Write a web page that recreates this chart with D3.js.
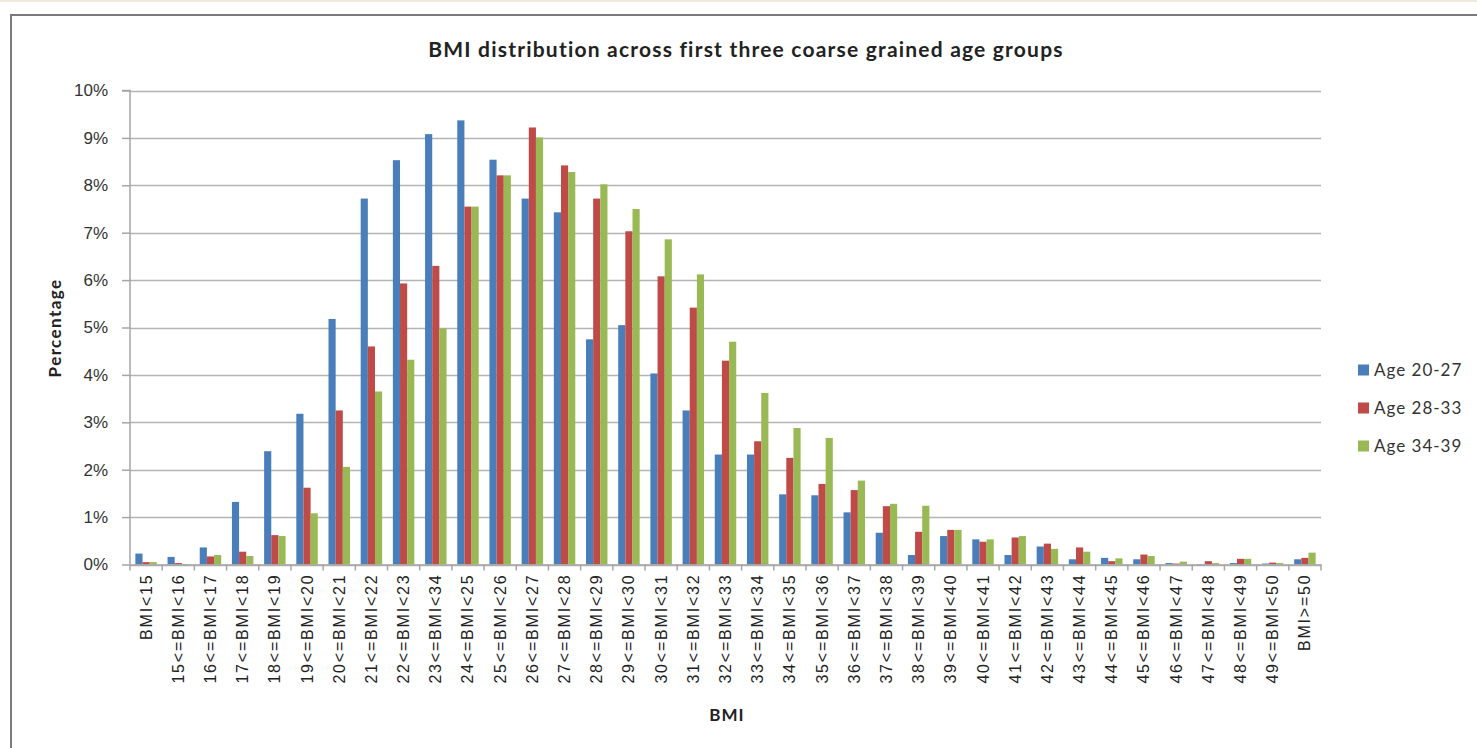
<!DOCTYPE html>
<html>
<head>
<meta charset="utf-8">
<script src="https://cdn.jsdelivr.net/npm/d3@7/dist/d3.min.js"></script>
<style>
  html, body { margin: 0; padding: 0; background: #fff; }
  svg { display: block; font-family: Lato, "Open Sans", sans-serif; }
</style>
</head>
<body>
<svg id="chart" width="1477" height="748"></svg>
<script>
// BMI bands (labels as printed on the axis)
const categories = [
  "BMI<15", "15<=BMI<16", "16<=BMI<17", "17<=BMI<18", "18<=BMI<19", "19<=BMI<20",
  "20<=BMI<21", "21<=BMI<22", "22<=BMI<23", "23<=BMI<34", "24<=BMI<25", "25<=BMI<26",
  "26<=BMI<27", "27<=BMI<28", "28<=BMI<29", "29<=BMI<30", "30<=BMI<31", "31<=BMI<32",
  "32<=BMI<33", "33<=BMI<34", "34<=BMI<35", "35<=BMI<36", "36<=BMI<37", "37<=BMI<38",
  "38<=BMI<39", "39<=BMI<40", "40<=BMI<41", "41<=BMI<42", "42<=BMI<43", "43<=BMI<44",
  "44<=BMI<45", "45<=BMI<46", "46<=BMI<47", "47<=BMI<48", "48<=BMI<49", "49<=BMI<50",
  "BMI>=50"
];

const seriesNames = ["Age 20-27", "Age 28-33", "Age 34-39"];
const seriesColors = ["#4a7ebb", "#be4b48", "#98b954"];

// Share of each age group in each BMI band (percent)
const age20to27 = [
  0.23, 0.16, 0.36, 1.32, 2.39, 3.18, 5.18, 7.72, 8.53, 9.08, 9.37, 8.54,
  7.72, 7.43, 4.75, 5.05, 4.03, 3.25, 2.32, 2.32, 1.48, 1.46, 1.10, 0.67,
  0.20, 0.60, 0.53, 0.20, 0.38, 0.11, 0.14, 0.11, 0.03, 0.01, 0.03, 0.02,
  0.11
];
const age28to33 = [
  0.05, 0.03, 0.17, 0.27, 0.62, 1.62, 3.25, 4.60, 5.93, 6.30, 7.55, 8.21,
  9.22, 8.42, 7.72, 7.03, 6.08, 5.42, 4.30, 2.60, 2.25, 1.70, 1.57, 1.23,
  0.69, 0.73, 0.48, 0.57, 0.44, 0.36, 0.07, 0.21, 0.02, 0.07, 0.12, 0.04,
  0.14
];
const age34to39 = [
  0.05, 0.01, 0.20, 0.18, 0.60, 1.08, 2.06, 3.65, 4.32, 4.98, 7.55, 8.21,
  9.01, 8.28, 8.02, 7.50, 6.86, 6.12, 4.70, 3.62, 2.88, 2.67, 1.77, 1.28,
  1.24, 0.73, 0.53, 0.60, 0.33, 0.27, 0.13, 0.18, 0.06, 0.03, 0.12, 0.03,
  0.25
];
const seriesValues = [age20to27, age28to33, age34to39];

const yTicks = [0, 1, 2, 3, 4, 5, 6, 7, 8, 9, 10];

const titleText = "BMI distribution across first three coarse grained age groups";
const xTitle = "BMI";
const yTitle = "Percentage";

const svg = d3.select("#chart");
const W = 1477, H = 748;

// page backdrop and chart frame
svg.append("rect").attr("x", 0).attr("y", 0).attr("width", W).attr("height", H).attr("fill", "#fff");
svg.append("rect").attr("x", 0).attr("y", 0).attr("width", W).attr("height", 2).attr("fill", "#efe9dc");
svg.append("path")
  .attr("d", `M11,${H + 2} V15 H${W + 2}`)
  .attr("fill", "none").attr("stroke", "#7a7a7a").attr("stroke-width", 2);

const plot = { left: 130, right: 1321, top: 90.5, bottom: 564.5 };

const x = d3.scaleBand()
  .domain(categories)
  .range([plot.left, plot.right])
  .paddingInner(0)
  .paddingOuter(0);

const y = d3.scaleLinear().domain([0, 10]).range([plot.bottom, plot.top]);

// group the three bars inside each band (gap width 150%)
const groupFrac = 3 / 4.5;
const xs = d3.scaleBand()
  .domain(d3.range(seriesNames.length))
  .range([0, x.bandwidth() * groupFrac])
  .padding(0);
const groupOffset = (x.bandwidth() - x.bandwidth() * groupFrac) / 2;

// horizontal gridlines
svg.append("g").selectAll("line")
  .data(yTicks)
  .join("line")
  .attr("x1", plot.left).attr("x2", plot.right)
  .attr("y1", d => Math.round(y(d)) + 0.5).attr("y2", d => Math.round(y(d)) + 0.5)
  .attr("stroke", "#b4b4b4").attr("stroke-width", 1.5);

// bars
const groups = svg.append("g").selectAll("g")
  .data(seriesNames.map((name, i) => ({ name, i, values: seriesValues[i] })))
  .join("g")
  .attr("fill", d => seriesColors[d.i]);

groups.selectAll("rect")
  .data(d => d.values.map((v, k) => ({ v, k, s: d.i })))
  .join("rect")
  .attr("x", d => x(categories[d.k]) + groupOffset + xs(d.s))
  .attr("width", xs.bandwidth())
  .attr("y", d => y(d.v))
  .attr("height", d => y(0) - y(d.v));

// y axis
const yAxis = d3.axisLeft(y)
  .tickValues(yTicks)
  .tickFormat(d => d + "%")
  .tickSize(8)
  .tickPadding(14);
const yg = svg.append("g").attr("transform", `translate(${plot.left},0)`).call(yAxis);
yg.select(".domain").attr("stroke", "#a6a6a6").attr("stroke-width", 1.5)
  .attr("d", `M-8,${plot.top}H0V${plot.bottom}`);
yg.selectAll(".tick line").attr("stroke", "#a6a6a6").attr("stroke-width", 1.5);
yg.selectAll(".tick text").attr("fill", "#333").style("font-size", "17px");

// x axis
const xAxis = d3.axisBottom(x).tickSize(0).tickPadding(8);
const xg = svg.append("g").attr("transform", `translate(0,${plot.bottom})`).call(xAxis);
xg.select(".domain").attr("stroke", "#a6a6a6").attr("stroke-width", 1.5);
xg.selectAll(".tick text")
  .attr("fill", "#222")
  .style("font-size", "16px")
  .style("letter-spacing", "1.8px")
  .attr("text-anchor", "end")
  .attr("dominant-baseline", "central")
  .attr("transform", "rotate(-90)")
  .attr("x", -9).attr("y", 0).attr("dy", null);

// category separator ticks
svg.append("g").selectAll("line")
  .data(d3.range(categories.length + 1))
  .join("line")
  .attr("x1", i => plot.left + i * x.step()).attr("x2", i => plot.left + i * x.step())
  .attr("y1", plot.bottom).attr("y2", plot.bottom + 6)
  .attr("stroke", "#a6a6a6").attr("stroke-width", 1.5);

// titles
svg.append("text")
  .attr("x", 746).attr("y", 57)
  .attr("text-anchor", "middle")
  .attr("font-weight", "bold").attr("font-size", "21px").attr("fill", "#222")
  .style("letter-spacing", "1.2px")
  .text(titleText);

svg.append("text")
  .attr("x", 727).attr("y", 721)
  .attr("text-anchor", "middle")
  .attr("font-weight", "bold").attr("font-size", "17px").attr("fill", "#222")
  .style("letter-spacing", "1px")
  .text(xTitle);

svg.append("text")
  .attr("transform", "translate(61,328) rotate(-90)")
  .attr("text-anchor", "middle")
  .attr("font-weight", "bold").attr("font-size", "17px").attr("fill", "#222")
  .style("letter-spacing", "1.4px")
  .text(yTitle);

// legend
const legend = svg.append("g").selectAll("g")
  .data(seriesNames)
  .join("g")
  .attr("transform", (d, i) => `translate(1358,${370 + i * 38})`);
legend.append("rect")
  .attr("x", 0).attr("y", -5.5).attr("width", 11).attr("height", 11)
  .attr("fill", (d, i) => seriesColors[i]);
legend.append("text")
  .attr("x", 16).attr("y", 0).attr("dy", "0.36em")
  .attr("font-size", "17px").attr("fill", "#333")
  .style("letter-spacing", "1px")
  .text(d => d);
</script>
</body>
</html>
